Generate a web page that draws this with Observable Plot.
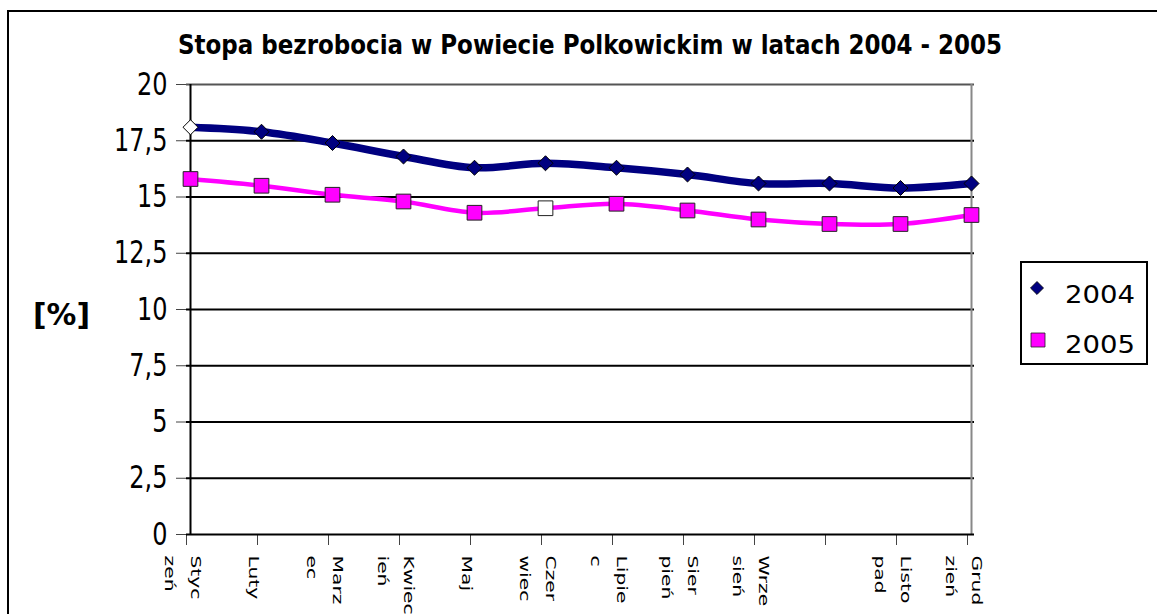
<!DOCTYPE html>
<html><head><meta charset="utf-8">
<script src="https://cdn.jsdelivr.net/npm/d3@7"></script>
<script src="https://cdn.jsdelivr.net/npm/@observablehq/plot@0.6"></script>
<style>
html,body{margin:0;padding:0;background:#fff;overflow:hidden;}
#chart svg{display:block;overflow:hidden;}
</style></head><body><div id="chart"></div>
<script>
const months = ["Styczeń","Luty","Marzec","Kwiecień","Maj","Czerwiec","Lipiec","Sierpień","Wrzesień","Październik","Listopad","Grudzień"];
const monthLabels = ["Styc\nzeń","Luty","Marz\nec","Kwiec\nień","Maj","Czer\nwiec","Lipie\nc","Sier\npień","Wrze\nsień","","Listo\npad","Grud\nzień"];
const values2004 = [18.1,17.9,17.4,16.8,16.3,16.5,16.3,16.0,15.6,15.6,15.4,15.6];
const values2005 = [15.8,15.5,15.1,14.8,14.3,14.5,14.7,14.4,14.0,13.8,13.8,14.2];
const seriesNames = ["2004","2005"];
const seriesColors = ["#000080","#FF00FF"];
const hollowPoints = [["2004","Styczeń"],["2005","Czerwiec"]];
const yTicks = [0,2.5,5,7.5,10,12.5,15,17.5,20];
const title = "Stopa bezrobocia w Powiecie Polkowickim w latach 2004 - 2005";
const yLabel = "[%]";

const isHollow = (s, m) => hollowPoints.some(([hs, hm]) => hs === s && hm === m);
const rows2004 = months.map((m, i) => ({month: m, value: values2004[i], series: seriesNames[0], hollow: isHollow(seriesNames[0], m)}));
const rows2005 = months.map((m, i) => ({month: m, value: values2005[i], series: seriesNames[1], hollow: isHollow(seriesNames[1], m)}));
const diamond = d3.symbolDiamond2 || "diamond";

const chart = Plot.plot({
  width: 1157, height: 614,
  marginLeft: 186, marginRight: 183, marginTop: 84, marginBottom: 80,
  style: {fontFamily: "DejaVu Sans", background: "white", color: "black"},
  x: {type: "point", domain: months, padding: 0},
  y: {domain: [0, 20]},
  marks: [
    Plot.gridY(yTicks.filter(t => t > 0 && t < 20), {stroke: "black", strokeOpacity: 1, strokeWidth: 2}),
    Plot.ruleY([20], {stroke: "#555", strokeWidth: 2}),
    Plot.ruleX([months[months.length - 1]], {stroke: "#888", strokeWidth: 2}),
    Plot.axisY(yTicks, {tickSize: 10, tickPadding: 9, fontSize: 24, tickFormat: d => String(d).replace(".", ","), label: null}),
    Plot.axisX(months, {tickSize: 11, tickPadding: 10, tickRotate: 90, fontSize: 14.5, lineHeight: 1.8, dx: -4, tickFormat: d => monthLabels[months.indexOf(d)], label: null}),
    Plot.ruleX([months[0]], {stroke: "black", strokeWidth: 2}),
    Plot.ruleY([0], {stroke: "black", strokeWidth: 2}),
    Plot.line(rows2004, {x: "month", y: "value", stroke: seriesColors[0], strokeWidth: 7.5, curve: "catmull-rom"}),
    Plot.line(rows2005, {x: "month", y: "value", stroke: seriesColors[1], strokeWidth: 4.5, curve: "catmull-rom"}),
    Plot.dot(rows2004, {x: "month", y: "value", symbol: diamond, r: 6.76, fill: d => d.hollow ? "white" : seriesColors[0], stroke: "black", strokeWidth: 1}),
    Plot.dot(rows2005, {x: "month", y: "value", symbol: "square", r: 8.3, fill: d => d.hollow ? "white" : seriesColors[1], stroke: "#222", strokeWidth: 1})
  ]
});
document.getElementById("chart").appendChild(chart);

const svg = d3.select(chart);
svg.selectAll('g[aria-label="x-axis tick label"] text').each(function() {
  const t = this.getAttribute("transform") || "";
  this.setAttribute("transform", t + " scale(1.4,1)");
});
svg.selectAll('g[aria-label="y-axis tick label"] text').each(function() {
  const t = this.getAttribute("transform") || "";
  this.setAttribute("transform", t + " scale(1,1.3)");
});
svg.selectAll('g[aria-label="x-axis tick"], g[aria-label="y-axis tick"]').attr("stroke", "#444");

svg.insert("rect", ":first-child").attr("x", 8).attr("y", 11).attr("width", 1400).attr("height", 900)
  .attr("fill", "none").attr("stroke", "black").attr("stroke-width", 2);

const ov = svg.append("g").attr("font-family", "DejaVu Sans").attr("fill", "black");
ov.append("text").attr("x", 590).attr("y", 54).attr("text-anchor", "middle")
  .attr("font-size", 27).attr("font-weight", "bold")
  .attr("textLength", 824).attr("lengthAdjust", "spacingAndGlyphs").text(title);
ov.append("text").attr("x", 33).attr("y", 325).attr("text-anchor", "start")
  .attr("font-size", 31).attr("font-weight", "bold")
  .attr("textLength", 57).attr("lengthAdjust", "spacingAndGlyphs").text(yLabel);

const lg = svg.append("g");
lg.append("rect").attr("x", 1021).attr("y", 262).attr("width", 126).attr("height", 102)
  .attr("fill", "white").attr("stroke", "black").attr("stroke-width", 2);
lg.append("path").attr("d", d3.symbol(diamond === "diamond" ? d3.symbolDiamond : diamond, 108)())
  .attr("transform", "translate(1037,288)").attr("fill", seriesColors[0]).attr("stroke", "black").attr("stroke-width", 0.8);
lg.append("path").attr("d", d3.symbol(d3.symbolSquare, 196)())
  .attr("transform", "translate(1038,340)").attr("fill", seriesColors[1]).attr("stroke", "#222").attr("stroke-width", 0.8);
lg.append("text").attr("x", 1065).attr("y", 303).attr("text-anchor", "start").attr("font-family", "DejaVu Sans").attr("font-size", 25)
  .attr("textLength", 70).attr("lengthAdjust", "spacingAndGlyphs").text(seriesNames[0]);
lg.append("text").attr("x", 1065).attr("y", 353).attr("text-anchor", "start").attr("font-family", "DejaVu Sans").attr("font-size", 25)
  .attr("textLength", 70).attr("lengthAdjust", "spacingAndGlyphs").text(seriesNames[1]);
</script>
</body></html>
